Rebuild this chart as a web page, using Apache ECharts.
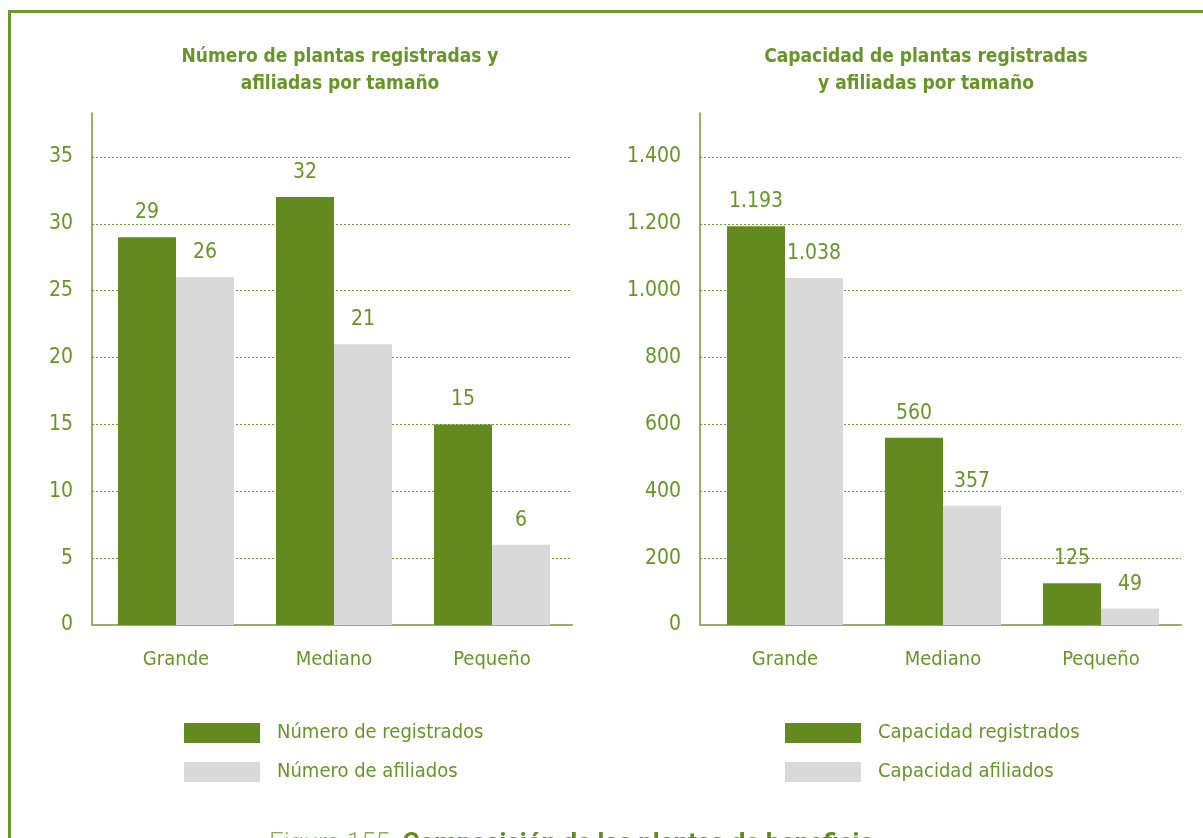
<!DOCTYPE html>
<html>
<head>
<meta charset="utf-8">
<script src="https://cdn.jsdelivr.net/npm/echarts@6/dist/echarts.min.js"></script>
<style>
  html, body { margin: 0; padding: 0; background: #ffffff; }
  #chart { width: 1203px; height: 838px; }
</style>
</head>
<body>
<div id="chart"></div>
<script>
// Plant sizes shared by both panels
const categories = ['Grande', 'Mediano', 'Pequeño'];

// Left panel: number of plants
const numeroRegistrados = [29, 32, 15];
const numeroAfiliados = [26, 21, 6];

// Right panel: capacity of plants
const capacidadRegistrados = [1193, 560, 125];
const capacidadAfiliados = [1038, 357, 49];

// Axis ticks
const numeroTicks = [0, 5, 10, 15, 20, 25, 30, 35];
const capacidadTicks = [0, 200, 400, 600, 800, 1000, 1200, 1400];

const titleLeft = 'Número de plantas registradas y\nafiliadas por tamaño';
const titleRight = 'Capacidad de plantas registradas\ny afiliadas por tamaño';
const captionLead = 'Figura 155. ';
const captionBody = 'Composición de las plantas de beneficio';

const GREEN = '#638a1e';
const TEXT_GREEN = '#679628';
const GRAY = '#d9d9d9';
const NARROW = '"DejaVu Sans Condensed", "Liberation Sans Narrow", Roboto, sans-serif';
const FS = 21;

// thousands separator with a dot
function fmt(v) {
  return String(Math.round(v)).replace(/\B(?=(\d{3})+(?!\d))/g, '.');
}

const plotTop = 113, plotHeight = 512;
// top of the axis reaches a little above the last tick
const topTickY = 157;
const extra = plotHeight / (625 - topTickY);
const numeroMax = numeroTicks[numeroTicks.length - 1] * extra;
const capacidadMax = capacidadTicks[capacidadTicks.length - 1] * extra;

function frameY(gridIndex, max, interval, ticks, formatter) {
  return {
    type: 'value', gridIndex: gridIndex, min: 0, max: max, interval: interval,
    axisLine: { show: true, lineStyle: { color: '#6f9a30', width: 1.5 } },
    axisTick: { show: false },
    axisLabel: {
      showMaxLabel: false, margin: 19, color: TEXT_GREEN, fontFamily: NARROW, fontSize: FS,
      formatter: function (v) { return ticks.indexOf(v) >= 0 ? formatter(v) : ''; }
    },
    splitLine: { show: true, showMaxLine: false, lineStyle: { color: '#6f9a30', type: [2, 2], width: 1 } }
  };
}
function barY(gridIndex, max) {
  return { type: 'value', gridIndex: gridIndex, min: 0, max: max, show: false, splitLine: { show: false } };
}
function frameX(gridIndex) {
  return {
    type: 'category', gridIndex: gridIndex, data: categories,
    axisLine: { show: true, lineStyle: { color: '#93b260', width: 2 } },
    axisTick: { show: false }, axisLabel: { show: false }, splitLine: { show: false }
  };
}
function barX(gridIndex) {
  return {
    type: 'category', gridIndex: gridIndex, data: categories,
    axisLine: { show: false }, axisTick: { show: false },
    axisLabel: { color: TEXT_GREEN, fontFamily: NARROW, fontSize: FS - 1, margin: 25 }
  };
}
function barSeries(name, data, color, xi, yi, labelFmt) {
  return {
    type: 'bar', name: name, data: data, xAxisIndex: xi, yAxisIndex: yi,
    barWidth: 58, barGap: '0%',
    itemStyle: { color: color },
    label: {
      show: true, position: 'top', distance: 14, color: TEXT_GREEN,
      fontFamily: NARROW, fontSize: FS,
      formatter: function (p) { return labelFmt(p.value); }
    },
    emphasis: { disabled: true }
  };
}
function legend(left, names) {
  return {
    left: left, top: 718, orient: 'vertical', itemWidth: 76, itemHeight: 20, itemGap: 19,
    icon: 'rect', selectedMode: false, data: names,
    textStyle: { color: TEXT_GREEN, fontFamily: NARROW, fontSize: 20, padding: [0, 0, 0, 12] }
  };
}

const chart = echarts.init(document.getElementById('chart'), null, { renderer: 'canvas' });
chart.setOption({
  animation: false,
  backgroundColor: '#ffffff',
  title: [
    { text: titleLeft, left: 335, top: 39, textAlign: 'center',
      textStyle: { color: TEXT_GREEN, fontFamily: NARROW, fontWeight: 'bold', fontSize: 19, lineHeight: 27 } },
    { text: titleRight, left: 921, top: 39, textAlign: 'center',
      textStyle: { color: TEXT_GREEN, fontFamily: NARROW, fontWeight: 'bold', fontSize: 19, lineHeight: 27 } }
  ],
  grid: [
    { left: 92, width: 480, top: plotTop, height: plotHeight },
    { left: 97, width: 474, top: plotTop, height: plotHeight },
    { left: 700, width: 481, top: plotTop, height: plotHeight },
    { left: 706, width: 474, top: plotTop, height: plotHeight }
  ],
  xAxis: [frameX(0), barX(1), frameX(2), barX(3)],
  yAxis: [
    frameY(0, numeroMax, 5, numeroTicks, function (v) { return String(v); }),
    barY(1, numeroMax),
    frameY(2, capacidadMax, 200, capacidadTicks, fmt),
    barY(3, capacidadMax)
  ],
  legend: [
    legend(179, ['Número de registrados', 'Número de afiliados']),
    legend(780, ['Capacidad registrados', 'Capacidad afiliados'])
  ],
  series: [
    barSeries('Número de registrados', numeroRegistrados, GREEN, 1, 1, String),
    barSeries('Número de afiliados', numeroAfiliados, GRAY, 1, 1, String),
    barSeries('Capacidad registrados', capacidadRegistrados, GREEN, 3, 3, fmt),
    barSeries('Capacidad afiliados', capacidadAfiliados, GRAY, 3, 3, fmt)
  ],
  graphic: [
    // page frame: top rule and left rule
    { type: 'rect', shape: { x: 9, y: 10, width: 1194, height: 3 }, style: { fill: '#6b9a2c' }, silent: true },
    { type: 'rect', shape: { x: 8, y: 10, width: 3, height: 828 }, style: { fill: '#6b9a2c' }, silent: true },
    // figure caption below the panels
    {
      type: 'text', left: 269, top: 831, silent: true,
      style: {
        text: '{a|' + captionLead + '}{b|' + captionBody + '}',
        rich: {
          a: { fontFamily: 'Roboto, sans-serif', fontWeight: 300, fontSize: 26, fill: '#8aae55' },
          b: { fontFamily: 'Roboto, sans-serif', fontWeight: 'bold', fontSize: 26, fill: GREEN }
        }
      }
    }
  ]
});
</script>
</body>
</html>
